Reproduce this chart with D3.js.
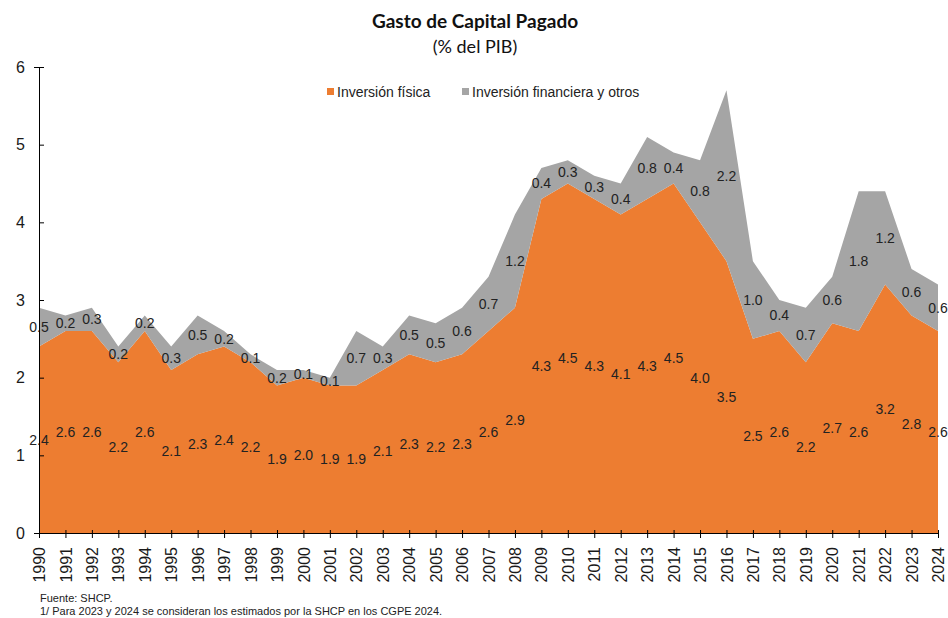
<!DOCTYPE html>
<html>
<head>
<meta charset="utf-8">
<script src="https://cdn.jsdelivr.net/npm/d3@7"></script>
<style>
    body { margin: 0; background: #fff; }
    text { font-family: "Liberation Sans", Arial, sans-serif; }
</style>
</head>
<body>
<div id="chart"></div>
<script>
// ===== data =====
var years = ["1990","1991","1992","1993","1994","1995","1996","1997","1998","1999",
    "2000","2001","2002","2003","2004","2005","2006","2007","2008","2009",
    "2010","2011","2012","2013","2014","2015","2016","2017","2018","2019",
    "2020","2021","2022","2023","2024"]
var fisica = [2.4,2.6,2.6,2.2,2.6,2.1,2.3,2.4,2.2,1.9,
    2.0,1.9,1.9,2.1,2.3,2.2,2.3,2.6,2.9,4.3,
    4.5,4.3,4.1,4.3,4.5,4.0,3.5,2.5,2.6,2.2,
    2.7,2.6,3.2,2.8,2.6]
var financiera = [0.5,0.2,0.3,0.2,0.2,0.3,0.5,0.2,0.1,0.2,
    0.1,0.1,0.7,0.3,0.5,0.5,0.6,0.7,1.2,0.4,
    0.3,0.3,0.4,0.8,0.4,0.8,2.2,1.0,0.4,0.7,
    0.6,1.8,1.2,0.6,0.6]
var yTicks = [0,1,2,3,4,5,6]
var seriesNames = ["Inversión física","Inversión financiera y otros"]
var colors = ["#ED7D31","#A5A5A5"]

var table = years.map(function(y, i){
    return {year: y, fisica: fisica[i], financiera: financiera[i]}
})

var svg = d3.select("#chart")
    .append("svg")
    .attr("width", 948)
    .attr("height", 618)

var x = d3.scalePoint()
    .domain(years)
    .range([39, 938])

var y = d3.scaleLinear()
    .domain([0, 6])
    .range([533, 67])

var stack = d3.stack().keys(["fisica","financiera"])
var layers = stack(table)

var area = d3.area()
    .x(function(d){ return x(d.data.year) })
    .y0(function(d){ return y(d[0]) })
    .y1(function(d){ return y(d[1]) })

svg.selectAll("path.layer")
    .data(layers)
    .enter()
    .append("path")
    .attr("class", "layer")
    .attr("d", area)
    .attr("fill", function(d, i){ return colors[i] })

// data labels in the middle of each band
layers.forEach(function(layer){
    svg.append("g")
        .selectAll("text")
        .data(layer)
        .enter()
        .append("text")
        .attr("x", function(d){ return x(d.data.year) })
        .attr("y", function(d){ return y((d[0] + d[1]) / 2) })
        .attr("dy", "0.35em")
        .attr("text-anchor", "middle")
        .attr("font-size", "14px")
        .attr("fill", "#222")
        .text(function(d){ return (d[1] - d[0]).toFixed(1) })
})

// y axis
var yAxis = svg.append("g")
    .attr("transform", "translate(39,0)")
    .call(d3.axisLeft(y).tickValues(yTicks).tickFormat(d3.format("d")).tickSize(5).tickPadding(9))
yAxis.select(".domain").attr("stroke", "#000")
yAxis.selectAll(".tick line").attr("x2", 5).attr("stroke", "#000")
yAxis.selectAll(".tick text")
    .attr("font-size", "16px")
    .attr("fill", "#1a1a1a")
    .style("font-family", "'Liberation Sans', Arial, sans-serif")

// x axis
var xAxis = svg.append("g")
    .attr("transform", "translate(0,533)")
    .call(d3.axisBottom(x).tickSize(5).tickSizeOuter(0))
xAxis.select(".domain").attr("stroke", "#000")
xAxis.selectAll(".tick line").attr("y1", -3).attr("stroke", "#000")
xAxis.selectAll(".tick text")
    .attr("transform", "rotate(-90)")
    .attr("x", -14)
    .attr("y", 0)
    .attr("dy", "0.35em")
    .attr("text-anchor", "end")
    .attr("font-size", "16px")
    .attr("fill", "#1a1a1a")
    .style("font-family", "'Liberation Sans', Arial, sans-serif")

// title
svg.append("text")
    .text("Gasto de Capital Pagado")
    .attr("x", 475)
    .attr("y", 28)
    .attr("text-anchor", "middle")
    .attr("font-size", "19px")
    .attr("font-weight", "bold")
    .attr("fill", "#111")
    .style("font-family", "Lato, 'Open Sans', sans-serif")

svg.append("text")
    .text("(% del PIB)")
    .attr("x", 475)
    .attr("y", 53)
    .attr("text-anchor", "middle")
    .attr("font-size", "18px")
    .attr("fill", "#111")
    .style("font-family", "Lato, 'Open Sans', sans-serif")

// legend
var legendX = [327, 462]
var legend = svg.selectAll("g.legend")
    .data(seriesNames)
    .enter()
    .append("g")
    .attr("class", "legend")
    .attr("transform", function(d, i){ return "translate(" + legendX[i] + ",88)" })
legend.append("rect")
    .attr("width", 7)
    .attr("height", 7)
    .attr("fill", function(d, i){ return colors[i] })
legend.append("text")
    .attr("x", 10)
    .attr("y", 9)
    .attr("font-size", "14px")
    .attr("fill", "#222")
    .text(function(d){ return d })

// source notes
svg.append("text")
    .text("Fuente: SHCP.")
    .attr("x", 40)
    .attr("y", 602)
    .attr("font-size", "11px")
    .attr("fill", "#222")
svg.append("text")
    .text("1/ Para 2023 y 2024 se consideran los estimados por la SHCP en los CGPE 2024.")
    .attr("x", 40)
    .attr("y", 615)
    .attr("font-size", "11px")
    .attr("fill", "#222")
</script>
</body>
</html>
